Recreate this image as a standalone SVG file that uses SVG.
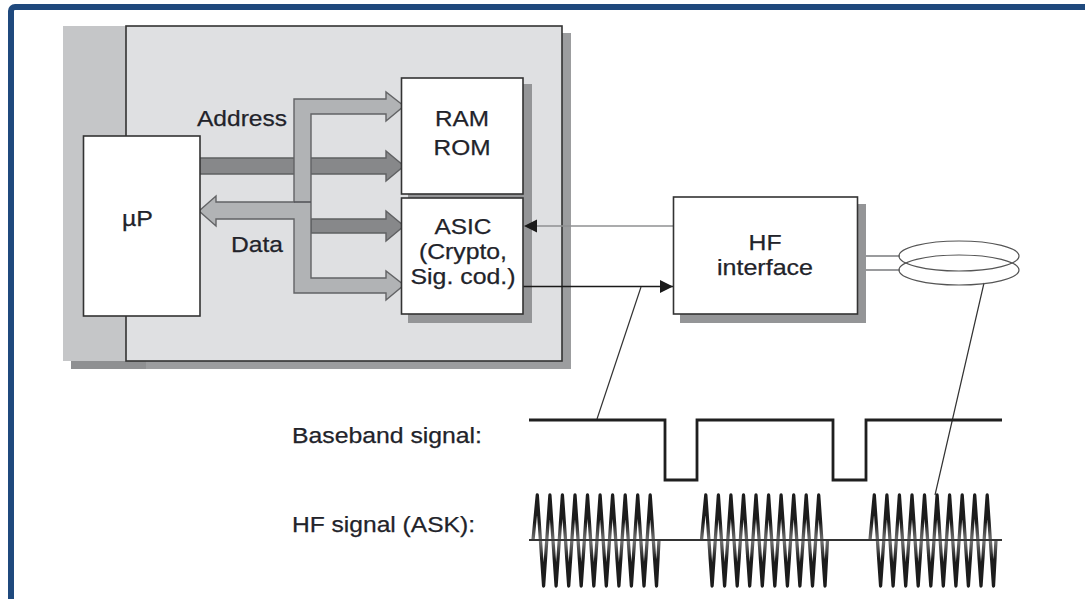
<svg xmlns="http://www.w3.org/2000/svg" width="1085" height="599" viewBox="0 0 1085 599">
<defs>
<style>
text{font-family:"Liberation Sans",Arial,sans-serif;font-size:22px;fill:#22232a;stroke:#22232a;stroke-width:.25}
.box{fill:#fff;stroke:#333;stroke-width:1.6}
.shadow{fill:#949597}
.dark{fill:#87888a;stroke:#5f6062;stroke-width:1.4}
.light{fill:#b1b3b5;stroke:#626365;stroke-width:1.4}
.wave{fill:none;stroke:url(#wg);stroke-width:3.3;stroke-linejoin:round}
</style>
<linearGradient id="wg" gradientUnits="userSpaceOnUse" x1="0" y1="495" x2="0" y2="586">
<stop offset="0.3" stop-color="#1c1c1c"/><stop offset="0.5" stop-color="#777"/><stop offset="0.7" stop-color="#1c1c1c"/>
</linearGradient>
<marker id="ah" markerUnits="userSpaceOnUse" markerWidth="14" markerHeight="14" refX="13" refY="7" orient="auto"><path d="M0,0.5L13,7L0,13.500Z" fill="#1a1a1a"/></marker>
<polyline id="burst" class="wave" points="533,540 537.300,495 543.600,586 549.900,495 556.100,586 562.400,495 568.700,586 575,495 581.200,586 587.500,495 593.800,586 600.100,495 606.300,586 612.600,495 618.900,586 625.200,495 631.400,586 637.700,495 644,586 650.200,495 656.500,586 659,540"/>
</defs>
<rect width="1085" height="599" fill="#fff"/>
<rect x="11" y="7" width="1090" height="610" rx="4" fill="none" stroke="#1f497d" stroke-width="6"/>
<g id="chip">
<rect x="71" y="33" width="500" height="336" fill="#9c9d9f"/>
<rect x="71" y="361" width="75" height="8" fill="#8f9092"/>
<rect x="63" y="26" width="63" height="335" fill="#c5c6c8"/>
<rect x="126" y="26" width="436" height="335" fill="#dfe0e2" stroke="#333" stroke-width="1.6"/>
</g>
<rect class="shadow" x="408" y="84" width="124" height="239"/>
<rect class="shadow" x="680" y="204" width="186" height="119"/>
<g id="connectors">
<path class="dark" d="M198,158H386V151L404,166L386,181V174H198Z"/>
<path class="dark" d="M311,219H386V211L404,226L386,241V233H311Z"/>
<path class="light" d="M404,106L386,92V99H294V202H216V196L199,211L216,226V219H294V293H386V300L404,285L386,271V278H311V114H386V121Z"/>
<path d="M294,202H311" stroke="#55565a" stroke-width="1.6"/>
<line x1="673" y1="226" x2="524" y2="226" stroke="#8f9092" stroke-width="1.6" marker-end="url(#ah)"/>
<line x1="523" y1="286.500" x2="673" y2="286.500" stroke="#1a1a1a" stroke-width="1.5" marker-end="url(#ah)"/>
<path d="M866,256H900M866,270H900" stroke="#7a7b7d" stroke-width="1.400" fill="none"/>
<path d="M641,287L597,419M984,283L935,495" stroke="#333" stroke-width="1.200" fill="none"/>
</g>
<g id="up"><rect class="box" x="83.500" y="136" width="116.500" height="180"/><text x="137.500" y="226" text-anchor="middle" textLength="31" lengthAdjust="spacingAndGlyphs">µP</text></g>
<g id="ram"><rect class="box" x="401.500" y="78" width="121.500" height="116"/><text x="462" y="126" text-anchor="middle" textLength="54" lengthAdjust="spacingAndGlyphs">RAM</text><text x="462" y="155" text-anchor="middle" textLength="57" lengthAdjust="spacingAndGlyphs">ROM</text></g>
<g id="asic"><rect class="box" x="401.500" y="198" width="121.500" height="116"/><text x="463" y="234" text-anchor="middle" textLength="57" lengthAdjust="spacingAndGlyphs">ASIC</text><text x="463" y="259" text-anchor="middle" textLength="88" lengthAdjust="spacingAndGlyphs">(Crypto,</text><text x="463" y="284" text-anchor="middle" textLength="105" lengthAdjust="spacingAndGlyphs">Sig. cod.)</text></g>
<g id="hf"><rect class="box" x="673.500" y="197" width="184" height="117"/><text x="765" y="250" text-anchor="middle" textLength="33" lengthAdjust="spacingAndGlyphs">HF</text><text x="765" y="275" text-anchor="middle" textLength="96" lengthAdjust="spacingAndGlyphs">interface</text></g>
<g id="loop" fill="none" stroke="#555" stroke-width="1.200"><ellipse cx="959" cy="256" rx="60" ry="15"/><ellipse cx="959" cy="270" rx="60" ry="15"/></g>
<text x="197" y="126" textLength="90" lengthAdjust="spacingAndGlyphs">Address</text>
<text x="231" y="252" textLength="52" lengthAdjust="spacingAndGlyphs">Data</text>
<text x="292" y="443" textLength="190" lengthAdjust="spacingAndGlyphs">Baseband signal:</text>
<text x="292" y="532" textLength="183" lengthAdjust="spacingAndGlyphs">HF signal (ASK):</text>
<g id="baseband"><path d="M529,420H665V480H697V420H833V480H866V420H1002" fill="none" stroke="#1f1f1f" stroke-width="2.800"/></g>
<g id="hfsignal">
<use href="#burst"/><use href="#burst" x="168.500"/><use href="#burst" x="337"/>
<line x1="529" y1="540" x2="1002" y2="540" stroke="#333" stroke-width="2.200"/>
</g>
</svg>
